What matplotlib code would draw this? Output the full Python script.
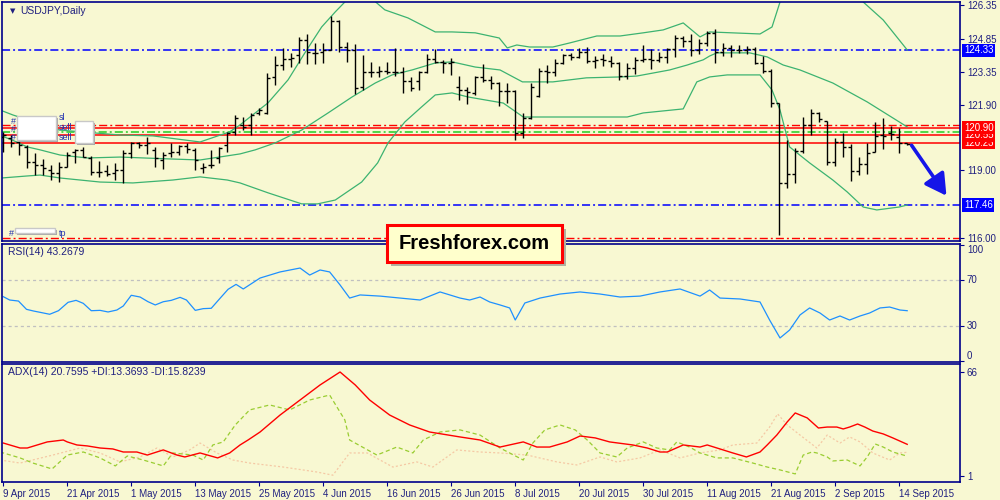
import numpy as np
import pandas as pd
import matplotlib
matplotlib.use("Agg")
import matplotlib.pyplot as plt
from matplotlib.patches import Rectangle, FancyArrowPatch

plt.rcParams['font.family'] = ['Liberation Sans', 'DejaVu Sans']
plt.rcParams['lines.scale_dashes'] = False

# ---- data ----
dates = pd.bdate_range("2015-04-09", periods=114)

opens = [120.50,120.42,120.28,120.05,119.39,119.24,119.02,118.87,119.16,119.83,
         119.91,119.54,118.94,118.99,118.87,119.02,119.76,120.20,120.13,119.91,
         119.46,119.76,119.83,120.08,119.91,119.09,119.24,119.54,120.13,120.72,
         121.02,121.02,121.54,121.54,123.16,123.68,123.94,124.13,124.79,124.20,
         124.28,124.35,125.65,124.50,124.35,122.69,123.39,123.39,123.43,123.39,
         123.39,122.97,122.97,123.39,123.94,123.83,123.79,122.69,122.57,122.42,
         123.16,123.02,122.87,122.54,122.54,120.67,121.31,122.32,123.43,123.39,
         123.76,124.13,124.05,124.28,123.88,123.94,123.88,123.76,123.19,123.54,
         123.91,123.94,123.91,124.02,124.38,124.87,124.76,124.35,124.68,125.12,
         124.28,124.42,124.35,124.35,124.38,123.79,123.43,121.98,118.42,118.84,
         119.88,121.02,121.54,121.21,119.36,120.28,120.05,118.99,119.28,119.83,
         120.57,120.65,120.50,120.20]
highs = [120.72,120.57,120.32,120.13,119.76,119.49,119.24,119.39,119.83,119.94,
         120.05,119.64,119.43,119.24,119.31,119.91,120.28,120.28,120.50,120.05,
         119.83,120.20,120.13,120.23,119.98,119.31,119.91,120.05,120.72,121.46,
         121.39,121.54,121.76,123.31,124.08,124.42,124.20,124.94,125.06,124.68,
         124.65,125.86,125.68,124.72,124.60,124.13,123.83,123.64,123.83,124.42,
         123.61,123.16,123.43,124.17,124.38,123.91,123.98,123.19,122.72,123.19,
         123.73,123.19,122.94,122.87,122.57,121.54,122.87,123.54,123.68,123.94,
         124.17,124.23,124.42,124.47,124.08,124.17,124.08,123.83,123.76,124.05,
         124.57,124.38,124.28,124.42,125.02,124.97,125.06,124.82,125.21,125.27,
         124.65,124.57,124.57,124.53,124.47,124.08,123.49,121.98,120.35,119.98,
         121.36,121.71,121.61,121.21,120.42,120.67,120.17,119.58,120.20,121.17,
         121.31,120.97,120.87,120.23]
lows = [119.83,120.05,119.68,119.09,118.79,118.79,118.57,118.50,119.16,119.31,
        119.61,118.79,118.72,118.75,118.57,118.45,119.54,119.98,119.73,119.16,
        119.05,119.58,119.68,119.76,119.02,118.87,119.09,119.31,119.83,120.57,
        120.79,120.57,121.46,121.51,122.79,123.46,123.61,123.76,123.73,123.73,
        123.76,124.35,124.28,123.83,122.39,122.57,123.13,123.13,123.28,123.19,
        122.45,122.54,122.57,123.34,123.76,123.31,123.24,122.13,121.95,122.35,
        122.94,122.60,121.86,121.98,120.35,120.42,121.27,122.28,122.90,123.19,
        123.73,123.91,123.98,123.76,123.54,123.64,123.61,123.02,123.05,123.28,
        123.83,123.49,123.83,123.76,124.05,124.50,124.08,124.17,124.53,123.76,
        124.08,124.02,124.20,124.17,123.73,123.34,121.80,116.13,118.20,118.42,
        119.76,120.57,121.17,119.24,119.19,119.61,118.54,118.79,118.84,119.83,
        119.94,120.35,119.79,120.14]
closes = [120.57,120.20,120.13,119.39,119.24,119.09,118.87,119.16,119.68,119.91,
          119.61,118.94,118.94,118.84,119.02,119.76,120.20,120.13,120.20,119.54,
          119.68,119.83,120.08,119.94,119.46,119.16,119.24,119.98,120.65,121.31,
          120.94,121.46,121.68,123.09,123.68,123.94,123.98,124.79,124.28,124.20,
          124.35,125.65,124.50,124.35,122.65,123.39,123.39,123.43,123.39,123.39,
          122.97,122.65,123.39,123.94,123.83,123.79,123.83,122.57,122.50,123.16,
          123.02,122.87,122.54,122.54,120.67,121.31,122.69,123.43,123.39,123.76,
          124.13,124.05,124.28,123.88,123.91,123.91,123.79,123.19,123.54,123.91,
          123.94,123.91,124.02,124.38,124.87,124.76,124.35,124.68,125.12,124.28,
          124.42,124.35,124.35,124.38,123.79,123.43,121.98,118.42,118.84,119.88,
          121.02,121.54,121.27,119.36,120.28,120.05,118.99,119.28,119.79,120.53,
          120.53,120.62,120.23,120.17]

# Bollinger bands (bar index, price)
bb_up_x = [-0.4,1.2,7,14.6,18.7,24.6,28.3,29.6,33.1,35.6,37.7,39.8,41.5,42.7,44,45.5,47.7,50.6,54,56.1,
           59,62,63,64.2,65.8,68.7,70.8,74.2,77.1,80,82.5,85,87.1,88.3,94.6,96.1,97.1,100,104,107.5,110,113]
bb_up = [121.68,121.46,120.79,120.57,120.53,120.26,120.71,121.02,122.0,123.02,124.22,125.37,126.04,126.48,
         126.9,126.8,126.13,125.77,125.15,125.15,125.11,124.88,124.44,124.57,124.48,124.48,124.66,124.97,
         124.97,125.11,125.24,125.55,124.93,125.15,125.06,125.37,126.48,128.5,128.8,126.48,125.68,124.35]
bb_mid_x = [-0.4,1.1,3,4.6,7.1,10.5,14.6,20.5,24.6,29.6,31.5,34,37.3,40.6,43.6,46.5,48.6,51.1,54,56.1,59,
            62.1,64.9,68.7,72.9,77.1,79.2,83.3,85.5,87.5,88.3,89.2,93.3,95.5,97.5,99.6,103.7,108,113]
bb_mid = [120.55,120.35,120.04,119.91,119.68,119.55,119.59,119.51,119.46,119.73,119.91,120.22,120.79,121.55,
          122.26,122.88,123.24,123.46,123.77,123.82,123.59,123.46,122.93,122.93,123.11,123.15,123.19,123.46,
          123.68,123.91,124.08,124.22,124.22,124.04,123.68,123.46,122.88,122.04,120.93]
bb_low_x = [-0.2,3,4.6,7.1,12.1,16.2,21.2,24.6,28,29.6,33.1,37.3,39.3,41.5,44.8,46.8,48.1,50.2,52.3,54,56.1,
            58.1,62.5,65,69.6,78,80,85,86.7,88.3,90.5,94.6,96.1,97.1,98.3,100.8,103.7,105.5,107.5,109.2,112,113]
bb_low = [118.66,118.75,118.79,118.66,118.48,118.44,118.57,118.71,118.57,118.44,118.0,117.51,117.51,117.68,
          118.48,119.33,120.22,121.15,121.82,122.35,122.44,122.26,121.99,121.37,121.37,121.37,121.55,121.73,
          122.93,123.15,123.24,123.24,122.57,121.68,120.04,119.33,118.57,118.04,117.37,117.24,117.37,117.46]

# RSI(14)
rsi_x = [0,0.8,1.9,2.9,3.8,4.6,5.8,6.9,8.1,9.1,10,11,12.1,13.1,14.2,15,16,17.1,18.1,19,20,21,22.1,22.9,24,
         25,26,27.1,28.1,29.1,30,32.1,34.6,37.1,38.3,39.6,40.8,42.1,43.3,44.6,47.1,49.6,52.1,54.6,57.1,58.3,
         59.6,60.8,62.1,63.3,64,65.2,67.1,69.6,72.1,74.6,77.1,79.6,82.1,84.6,87.1,88.3,89.6,92.1,94.6,95.8,
         97.1,98.3,99.6,100.8,102.1,103.3,104.6,105.8,107.1,108.3,109.6,110.8,112.1,113]
rsi = [55.5,52.6,51.7,44.5,43,41.9,40.2,43.3,50.6,52.3,49.7,43.3,43.6,42.2,43.9,47.4,56.7,55.2,51.1,48.3,
       51.1,52.3,54.9,52.6,43.6,45.1,45.4,54.1,61.9,66.2,62.2,71.7,77,80.4,74.3,78.7,77,65.7,54.3,57,56,
       54.3,52.6,59.6,54.3,52.6,55.2,50.9,48.3,45.7,35.2,50,54.3,57.8,59.6,57.8,55.2,56,59.6,62.2,56,61.3,
       54.3,53.5,50.9,35.2,19.6,26.5,39.6,45.7,41.3,35.2,38.7,35.2,38.7,41.3,45.7,46.5,43.9,43.3]

# ADX(14), +DI, -DI
adx_x = [0,2.1,3,5.5,7.5,8,9.2,10.5,12.1,13.7,15,16.7,18,20,21.7,22.7,24.6,26.8,28.3,29.6,30.6,32.1,34.6,
         37.1,39.6,42.1,44,45.8,48.3,50.8,53.3,57.1,59.6,62.1,65,66.7,68.3,70.5,72.1,74,75.8,78.7,80.5,82.1,
         83,85,87.1,88,89.6,91.2,92.9,94.6,95.5,96.7,98,99,100.5,101.9,103,104.2,105,105.8,106.8,107.7,
         108.7,110,111.2,113]
adx = [21.6,18.5,18.5,22.3,23.5,22.3,20.4,19.8,18.5,17.9,16,16,14.1,17.3,14.1,12.9,15.4,12.3,15.4,20.4,
       23.5,28.5,39.1,48.5,57.9,66,57.9,48.5,39.1,32.9,28.5,25.4,23.5,19.1,22.3,19.1,19.1,22.3,26,24.8,
       22.3,20.4,18.5,16,16,20.4,19.1,20.4,17.9,15.4,12.9,16,20.4,26.6,34.8,40.4,37.3,31,31.6,31.6,30.4,
       31.6,33.5,31.6,29.1,27.3,24.8,20.8]
pdi_x = [-0.4,2.1,3.7,6.1,8,10,12.1,14,15.5,17.5,20,21.2,23.7,25,26.2,27.5,29,30.8,33.3,35.8,38.3,40.8,
         42.7,43.3,46.7,49.2,51.2,52.5,54.6,57.1,59.6,62.1,65,66.2,67.7,69.6,71.5,73,74.6,76.7,78,80,81.7,
         83.3,84.2,85.8,87.1,89.2,91.2,93.7,95.5,97.1,99,100,101.1,101.7,103,103.7,105.5,107.1,108,109,110,
         111.2,113]
pdi = [16,12.3,9.1,5.4,14.1,16,12.3,7.3,13.5,11,7.3,15.4,14.1,11,20.4,22.3,32.9,42.3,45.4,42.3,48.5,51.6,
       36,23.5,14.1,19.1,15.4,23.5,28.5,29.8,26.6,18.5,11,21.6,29.8,32.9,29.8,23.5,15.4,12.9,18.5,22.3,
       18.5,17.3,22.3,19.1,15.4,12.3,12.3,9.1,6.6,4.8,2.3,14.1,16,15.4,12.9,10.4,11,7.3,12.9,21,19.1,16,13.4]
mdi_x = [-0.4,2.1,6.2,9.6,12.1,14.6,17.1,19.2,21.2,23.3,24.6,26.7,28.7,30.8,35,39.2,41.2,43.3,45.5,48.7,
         51.7,53.7,56.7,59.6,62.1,65.5,69.2,71.7,74.6,76.7,79.6,82.1,84.6,87.1,89.6,91.2,94.2,95.8,96.8,98,
         99.6,101.7,103,104.6,105.8,107.1,108.7,110.8,112.1,113]
mdi = [11,9.1,14.1,18.5,15.4,9.8,12.9,18.5,12.9,17.3,21.6,15.4,11,9.1,6.6,3.5,1.5,15.4,15.4,6.6,9.8,6.6,
       17.3,16,15.4,14.1,9.8,7.9,12.9,9.8,12.3,17.3,12.3,15.4,17.3,20.4,21.6,31.6,39.8,32.9,26.6,18.5,
       26.6,21.6,25.4,22.3,15.4,11,15.4,15.8]

price_ticks = [126.35, 124.85, 123.35, 121.90, 119.00, 116.00]
levels_red = [120.90, 120.55, 120.23]
level_sl = 121.02
level_entry = 120.69
level_tp = 115.98
level_blue = [124.33, 117.46]

# ---- style ----
BG = '#F8F8D2'
NAVY = '#00008B'
TXT = '#202080'
DASHDOT = (0, (5.8, 2.2, 1.4, 2.2))

fig = plt.figure(figsize=(10, 5), dpi=100, facecolor=BG)
ax = fig.add_axes([0.002, 0.518, 0.958, 0.478], facecolor=BG)
ax_rsi = fig.add_axes([0.002, 0.276, 0.958, 0.236], facecolor=BG)
ax_adx = fig.add_axes([0.002, 0.036, 0.958, 0.236], facecolor=BG)

xlim = (-0.16, 119.6)
for a in (ax, ax_rsi, ax_adx):
    a.set_xlim(*xlim)
    for s in a.spines.values():
        s.set_color(NAVY)
        s.set_linewidth(1.2)
    a.yaxis.tick_right()
    a.tick_params(axis='y', direction='out', length=3, color=NAVY, labelcolor=TXT,
                  labelsize=7, pad=2)
    a.tick_params(axis='x', bottom=False, labelbottom=False)

# ---- main price panel ----
x = np.arange(len(opens))
ax.set_ylim(115.86, 126.48)

ax.plot(bb_up_x, bb_up, color='#3CB371', lw=0.9, zorder=2)
ax.plot(bb_mid_x, bb_mid, color='#3CB371', lw=0.9, zorder=2)
ax.plot(bb_low_x, bb_low, color='#3CB371', lw=0.9, zorder=2)

for lv in level_blue:
    ax.axhline(lv, color='#0000FF', lw=1.1, ls=DASHDOT, zorder=1)
ax.axhline(level_sl, color='#FF0000', lw=1.0, ls=DASHDOT, zorder=1)
ax.axhline(level_entry, color='#22CC22', lw=1.1, ls=DASHDOT, zorder=1)
ax.axhline(level_tp, color='#FF0000', lw=1.0, ls=DASHDOT, zorder=1)
for lv in levels_red:
    ax.axhline(lv, color='#FF0000', lw=1.1, zorder=1)

ax.vlines(x, lows, highs, color='black', lw=1.0, zorder=3)
ax.hlines(opens, x - 0.38, x, color='black', lw=1.0, zorder=3)
ax.hlines(closes, x, x + 0.38, color='black', lw=1.0, zorder=3)

ax.set_yticks(price_ticks)
ax.set_yticklabels([f"{t:.2f}" for t in price_ticks])

ytr = ax.get_yaxis_transform()
for lv, c in [(124.33, '#0000FF'), (117.46, '#0000FF'),
              (120.23, '#FF0000'), (120.55, '#FF0000'), (120.90, '#FF0000')]:
    ax.text(1.004, lv, f"{lv:.2f}", transform=ytr, color='white', fontsize=7,
            va='center', ha='left', clip_on=False, zorder=5,
            bbox=dict(boxstyle='square,pad=0.18', fc=c, ec='none'))

ax.text(0.0085, 0.963, "\u25BC", transform=ax.transAxes, fontsize=5, color=TXT,
        va='center', ha='left', family='DejaVu Sans')
ax.text(0.019, 0.963, "USDJPY,Daily", transform=ax.transAxes, fontsize=7.5,
        color=TXT, va='center', ha='left')

# order labels on the left
for px, py, w, h in [(17, 116, 39, 24), (75, 121, 18, 22), (15, 228, 40, 5)]:
    fig.patches.append(Rectangle(((px + 2) / 1000, 1 - (py + h + 2) / 500), w / 1000, h / 500,
                                 transform=fig.transFigure, fc='#A8A8A8', ec='none', zorder=8))
    fig.patches.append(Rectangle((px / 1000, 1 - (py + h) / 500), w / 1000, h / 500,
                                 transform=fig.transFigure, fc='white', ec='#C8C8C8', lw=1, zorder=9))
for px, py, s in [(11, 121, "#"), (11, 129, "#"), (11, 137, "#"), (59, 118, "sl"),
                  (59, 127, "sell"), (59, 137, "sell"), (9, 233, "#"), (59, 233, "tp")]:
    fig.text(px / 1000, 1 - py / 500, s, fontsize=6.5, color='#2030B0', va='center',
             ha='left', zorder=10)

# forecast arrow
arrow = FancyArrowPatch((910 / 1000, 1 - 143 / 500), (948 / 1000, 1 - 198 / 500),
                        transform=fig.transFigure, arrowstyle='-|>,head_length=8,head_width=4.5',
                        color='#1515E8', lw=2.6, mutation_scale=1.6, zorder=10)
fig.patches.append(arrow)

# ---- RSI panel ----
ax_rsi.set_ylim(-1.3, 101.3)
ax_rsi.axhline(70, color='#C0C0C0', lw=0.9, ls=(0, (2.2, 2.2)))
ax_rsi.axhline(30, color='#C0C0C0', lw=0.9, ls=(0, (2.2, 2.2)))
ax_rsi.plot(rsi_x, rsi, color='#1E90FF', lw=0.9)
ax_rsi.set_yticks([100, 70, 30, 0])
ax_rsi.set_yticklabels(["100", "70", "30", "0"])
for lab, dy in zip(ax_rsi.get_yticklabels(), [-5, 0, 0, 5]):
    lab.set_va('top' if dy < 0 else ('bottom' if dy > 0 else 'center'))
ax_rsi.text(0.006, 0.93, "RSI(14) 43.2679", transform=ax_rsi.transAxes, fontsize=7.5,
            color=TXT, va='center', ha='left')

# ---- ADX panel ----
ax_adx.set_ylim(-2.75, 71)
ax_adx.plot(mdi_x, mdi, color='#F5C9A5', lw=0.9, ls=(0, (1.5, 1.5)))
ax_adx.plot(pdi_x, pdi, color='#9ACD32', lw=0.9, ls=(0, (3, 2)))
ax_adx.plot(adx_x, adx, color='#FF0000', lw=1.0)
ax_adx.set_yticks([66, 1])
ax_adx.set_yticklabels(["66", "1"])
ax_adx.text(0.006, 0.93, "ADX(14) 20.7595 +DI:13.3693 -DI:15.8239", transform=ax_adx.transAxes,
            fontsize=7.5, color=TXT, va='center', ha='left')

tick_idx = list(range(0, 113, 8))
ax_adx.tick_params(axis='x', bottom=True, labelbottom=True, direction='out', length=3,
                   color=NAVY, labelcolor=TXT, labelsize=7, pad=2)
ax_adx.set_xticks(tick_idx)
ax_adx.set_xticklabels([f"{dates[i].day} {dates[i].strftime('%b %Y')}" for i in tick_idx],
                       ha='left')

# ---- watermark box ----
fig.patches.append(Rectangle((391 / 1000, 1 - 266 / 500), 175 / 1000, 37 / 500,
                             transform=fig.transFigure, fc='#B0B0A0', ec='none', zorder=11))
fig.patches.append(Rectangle((387 / 1000, 1 - 262 / 500), 175 / 1000, 37 / 500,
                             transform=fig.transFigure, fc='#FFFFCC', ec='#FF0000', lw=2.2, zorder=12))
fig.text(474.5 / 1000, 1 - 243.5 / 500, "Freshforex.com", fontsize=14.5, fontweight='bold',
         color='black', ha='center', va='center', zorder=13)

fig.savefig("out.png", dpi=100, facecolor=BG)
